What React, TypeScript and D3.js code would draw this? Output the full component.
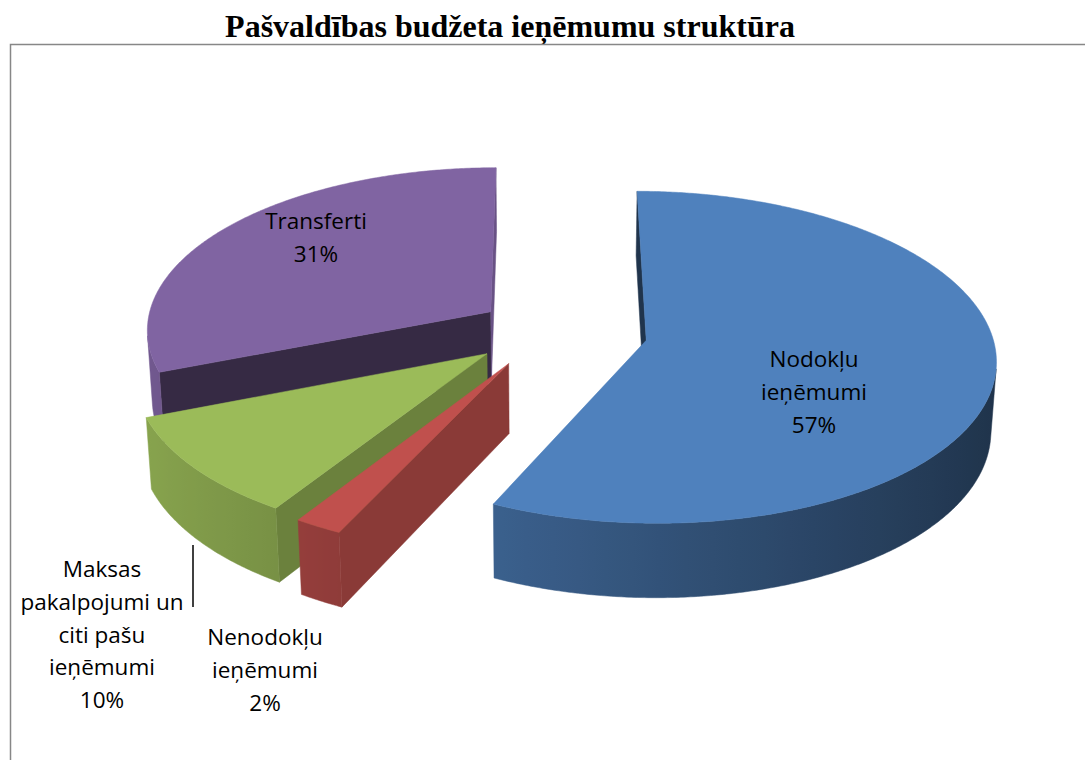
import React from "react";
import * as d3 from "d3";

// data
const categories = ["Nodokļu ieņēmumi", "Nenodokļu ieņēmumi", "Maksas pakalpojumi un citi pašu ieņēmumi", "Transferti"];
const values = [57, 2, 10, 31];
const labelLines = [
  ["Nodokļu", "ieņēmumi"],
  ["Nenodokļu", "ieņēmumi"],
  ["Maksas", "pakalpojumi un", "citi pašu", "ieņēmumi"],
  ["Transferti"],
];
const title = "Pašvaldības budžeta ieņēmumu struktūra";

// look
const colors = ["#4F81BD", "#C0504D", "#9BBB59", "#8064A2"];
const startFaceShade = [0.4, 0.72, 0.69, 0.42];
const endFaceShade = [0.5, 0.7, 0.7, 0.82];
const explode = [100, 80, 78, 70];
const labelAnchor: [number, number][] = [[814, 367], [265, 645], [102, 577], [316, 229]];
const LINE_H = 32.8;

const W = 1085;
const H = 760;
const CX = 548;
const CY = 330;
const R = 345;
const DEPTH = 79;
const SIN = 0.47;
const COS = Math.sqrt(1 - SIN * SIN);
const DIST = 3000;
const cam = [0, -DIST * COS, DIST * SIN];

type P3 = [number, number, number];

function proj(p: P3): [number, number] {
  const [u, v, h] = p;
  const d = DIST + v * COS - h * SIN;
  const s = DIST / d;
  return [CX + u * s, CY - (v * SIN + h * COS) * s];
}

function facing(n: P3, p: P3) {
  return n[0] * (cam[0] - p[0]) + n[1] * (cam[1] - p[1]) + n[2] * (cam[2] - p[2]) > 0;
}

function shade(c: string, k: number) {
  const col = d3.rgb(c);
  return d3.rgb(col.r * k, col.g * k, col.b * k).formatHex();
}

const line = d3.line<[number, number]>();
const poly = (pts: P3[]) => line(pts.map(proj)) + "Z";

export default function App() {
  const arcs = d3.pie<number>().sort(null).value((d) => d)(values);
  const step = Math.PI / 360;

  const slices = arcs.map((arc, i) => {
    const a = arc.startAngle;
    const b = arc.endAngle;
    const m = (a + b) / 2;
    const ou = explode[i] * Math.sin(m);
    const ov = explode[i] * Math.cos(m);
    const pt = (t: number, h: number): P3 => [ou + R * Math.sin(t), ov + R * Math.cos(t), h];
    const apexT: P3 = [ou, ov, 0];
    const apexB: P3 = [ou, ov, -DEPTH];
    const faces: { d: string; fill: string; grad?: { x1: number; x2: number; stops: { o: number; c: string }[] } }[] = [];

    // radial faces
    if (facing([-Math.cos(a), Math.sin(a), 0], apexT))
      faces.push({ d: poly([apexT, pt(a, 0), pt(a, -DEPTH), apexB]), fill: shade(colors[i], startFaceShade[i]) });
    if (facing([Math.cos(b), -Math.sin(b), 0], apexT))
      faces.push({ d: poly([apexT, pt(b, 0), pt(b, -DEPTH), apexB]), fill: shade(colors[i], endFaceShade[i]) });

    // outer side: visible run as one polygon with a gradient along x
    const n = Math.max(2, Math.ceil((b - a) / step));
    const ts = d3.range(n + 1).map((k) => a + ((b - a) * k) / n);
    const vis = ts.filter((t) => facing([Math.sin(t), Math.cos(t), 0], pt(t, 0)));
    if (vis.length > 1) {
      const topArc = vis.map((t) => pt(t, 0));
      const botArc = vis.map((t) => pt(t, -DEPTH)).reverse();
      const xs = vis.map((t) => proj(pt(t, 0))[0]);
      const x1 = d3.min(xs)!;
      const x2 = d3.max(xs)!;
      const sx = d3.scaleLinear().domain([x1, x2]).range([0, 1]);
      const every = Math.max(1, Math.floor(vis.length / 24));
      const stops = vis
        .filter((_, k) => k % every === 0 || k === vis.length - 1)
        .map((t) => ({ o: sx(proj(pt(t, 0))[0]), c: shade(colors[i], 0.64 + 0.25 * -Math.sin(t)) }))
        .sort((p, q) => p.o - q.o);
      faces.push({ d: poly([...topArc, ...botArc]), fill: stops[0].c, grad: { x1, x2, stops } });
    }

    // top
    const top: P3[] = [apexT, ...ts.map((t) => pt(t, 0))];
    faces.push({ d: poly(top), fill: colors[i] });

    const depth = DIST + (ov + 0.5 * R * Math.cos(m)) * COS;
    return { i, faces, depth };
  });

  const order = [...slices].sort((p, q) => q.depth - p.depth);

  return (
    <svg width={W} height={H} style={{ position: "absolute", left: 0, top: 0, background: "#fff" }}>
      <defs>
        {slices.flatMap((s) =>
          s.faces
            .map((f, j) =>
              f.grad ? (
                <linearGradient key={`g${s.i}-${j}`} id={`g${s.i}-${j}`} gradientUnits="userSpaceOnUse" x1={f.grad.x1} x2={f.grad.x2} y1={0} y2={0}>
                  {f.grad.stops.map((st, k) => (
                    <stop key={k} offset={st.o} stopColor={st.c} />
                  ))}
                </linearGradient>
              ) : null
            )
            .filter(Boolean)
        )}
      </defs>
      <text x={510} y={37} textAnchor="middle" fontFamily="'Liberation Serif', 'Times New Roman', serif" fontWeight="bold" fontSize={32} fill="#000">
        {title}
      </text>
      <rect x={10.5} y={44.5} width={W + 20} height={H} fill="none" stroke="#878787" strokeWidth={1.5} />
      {order.map((s) => (
        <g key={categories[s.i]}>
          {s.faces.map((f, j) => {
            const fill = f.grad ? `url(#g${s.i}-${j})` : f.fill;
            return <path key={j} d={f.d} fill={fill} stroke={fill} strokeWidth={0.5} strokeLinejoin="round" />;
          })}
        </g>
      ))}
      <line x1={193} y1={545} x2={193} y2={607} stroke="#000" strokeWidth={1.5} />
      {values.map((v, i) => (
        <text key={categories[i]} textAnchor="middle" fontFamily="'Open Sans', sans-serif" fontSize={22.5} fill="#000">
          {[...labelLines[i], `${v}%`].map((t, j) => (
            <tspan key={j} x={labelAnchor[i][0]} y={labelAnchor[i][1] + j * LINE_H}>
              {t}
            </tspan>
          ))}
        </text>
      ))}
    </svg>
  );
}
